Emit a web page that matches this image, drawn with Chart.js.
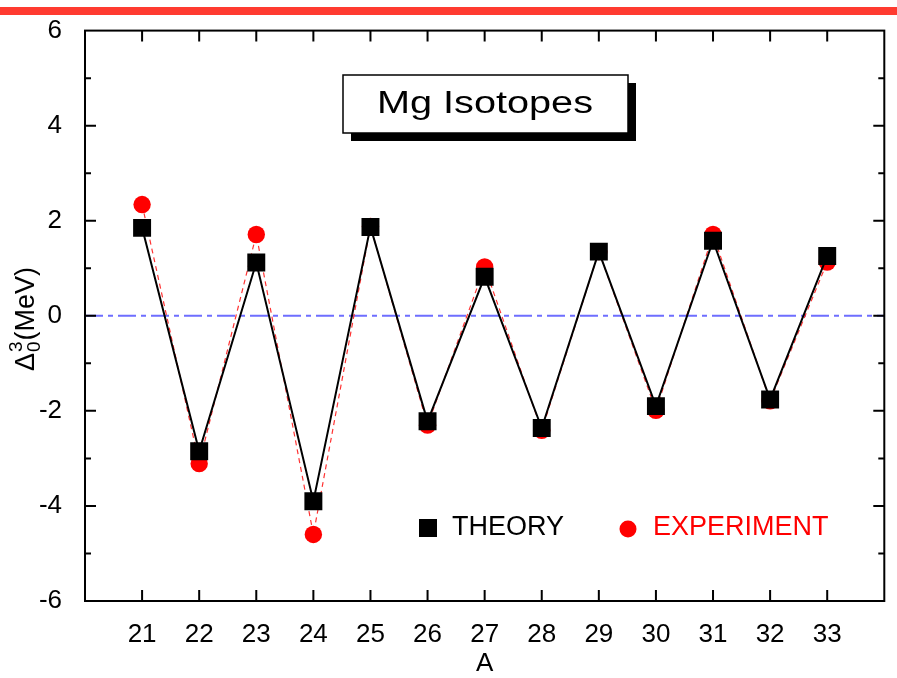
<!DOCTYPE html>
<html>
<head>
<meta charset="utf-8">
<script src="https://cdn.jsdelivr.net/npm/chart.js@4"></script>
<style>
  body { margin: 0; background: #fff; }
  .chart-container { position: relative; width: 897px; height: 678px; }
</style>
</head>
<body>
<div class="chart-container">
  <canvas id="chart"></canvas>
</div>
<script>
// Mg isotopes, three-point odd-even mass staggering
const massNumbers = [21, 22, 23, 24, 25, 26, 27, 28, 29, 30, 31, 32, 33];
const theory     = [1.85, -2.85, 1.12, -3.90, 1.87, -2.22, 0.82, -2.36, 1.35, -1.90, 1.58, -1.76, 1.26];
const experiment = [2.34, -3.11, 1.71, -4.60, 1.88, -2.30, 1.03, -2.41, 1.35, -1.99, 1.71, -1.79, 1.13];
const yTicks = [-6, -4, -2, 0, 2, 4, 6];
const xRange = [20, 34];
const yRange = [-6, 6];

const FONT = '"Liberation Sans", Arial, Helvetica, sans-serif';
const RED = '#ff0000';

const toPoints = (vals) => massNumbers.map((a, i) => ({ x: a, y: vals[i] }));

const decorations = {
  id: 'decorations',
  beforeDraw(chart) {
    const ctx = chart.ctx;
    ctx.save();
    ctx.fillStyle = '#ff3b30';
    ctx.fillRect(0, 7, chart.width, 8);
    ctx.restore();
  },
  afterDraw(chart) {
    const ctx = chart.ctx;
    const { left, right, top, bottom } = chart.chartArea;
    const xs = chart.scales.x, ys = chart.scales.y;
    ctx.save();

    // frame
    ctx.strokeStyle = '#000';
    ctx.lineWidth = 2;
    ctx.strokeRect(left, top, right - left, bottom - top);

    // inward ticks
    ctx.lineWidth = 2;
    ctx.beginPath();
    massNumbers.forEach(a => {
      const px = xs.getPixelForValue(a);
      ctx.moveTo(px, bottom); ctx.lineTo(px, bottom - 11);
      ctx.moveTo(px, top); ctx.lineTo(px, top + 11);
    });
    for (let v = yRange[0] + 1; v < yRange[1]; v++) {
      const py = ys.getPixelForValue(v);
      const len = v % 2 === 0 ? 11 : 6;
      ctx.moveTo(left, py); ctx.lineTo(left + len, py);
      ctx.moveTo(right, py); ctx.lineTo(right - len, py);
    }
    ctx.stroke();

    // title box with drop shadow
    const bx = 343, by = 75, bw = 285, bh = 58;
    ctx.fillStyle = '#000';
    ctx.fillRect(bx + 8, by + 8, bw, bh);
    ctx.fillStyle = '#fff';
    ctx.fillRect(bx, by, bw, bh);
    ctx.lineWidth = 1.5;
    ctx.strokeRect(bx, by, bw, bh);
    ctx.fillStyle = '#000';
    ctx.font = '31px ' + FONT;
    ctx.textBaseline = 'alphabetic';
    ctx.textAlign = 'left';
    const title = 'Mg Isotopes';
    const tw = ctx.measureText(title).width;
    ctx.save();
    ctx.translate(377, 113);
    ctx.scale(216 / tw, 1);
    ctx.fillText(title, 0, 0);
    ctx.restore();

    // legend
    ctx.font = '27px ' + FONT;
    ctx.textBaseline = 'middle';
    ctx.fillStyle = '#000';
    ctx.fillRect(419, 519, 18, 18);
    ctx.fillText('THEORY', 452, 528);
    ctx.fillStyle = RED;
    ctx.beginPath();
    ctx.arc(628, 529, 8.5, 0, Math.PI * 2);
    ctx.fill();
    ctx.fillText('EXPERIMENT', 653, 528);

    // x title
    ctx.fillStyle = '#000';
    ctx.textAlign = 'center';
    ctx.textBaseline = 'alphabetic';
    ctx.font = '26px ' + FONT;
    ctx.fillText('A', (left + right) / 2, 671);

    // y title: Δ^3_0(MeV)
    ctx.save();
    ctx.translate(34, 371);
    ctx.rotate(-Math.PI / 2);
    ctx.textAlign = 'left';
    ctx.font = '27px ' + FONT;
    ctx.fillText('\u0394', 0, 0);
    let w = ctx.measureText('\u0394').width;
    ctx.font = '19px ' + FONT;
    ctx.fillText('3', w + 1, -12);
    ctx.fillText('0', w + 1, 6);
    w += ctx.measureText('3').width + 2;
    ctx.font = '27px ' + FONT;
    ctx.fillText('(MeV)', w, 0);
    ctx.restore();

    ctx.restore();
  }
};

new Chart(document.getElementById('chart').getContext('2d'), {
  type: 'scatter',
  data: {
    datasets: [
      {
        label: 'THEORY',
        data: toPoints(theory),
        showLine: true,
        borderColor: '#000',
        borderWidth: 2,
        backgroundColor: '#000',
        pointStyle: 'rect',
        pointRadius: 12.7,
        pointBorderWidth: 0,
        order: 0
      },
      {
        label: 'EXPERIMENT',
        data: toPoints(experiment),
        showLine: true,
        borderColor: '#ff3333',
        borderWidth: 1.2,
        borderDash: [5, 4],
        backgroundColor: RED,
        pointBorderColor: RED,
        pointStyle: 'circle',
        pointRadius: 8.7,
        pointBorderWidth: 0,
        order: 1
      },
      {
        label: 'zero',
        data: [{ x: xRange[0], y: 0 }, { x: xRange[1], y: 0 }],
        showLine: true,
        borderColor: '#6e6eff',
        borderWidth: 2,
        borderDash: [18, 5, 5, 5],
        pointRadius: 0,
        order: 2
      }
    ]
  },
  options: {
    responsive: true,
    maintainAspectRatio: false,
    animation: false,
    layout: { padding: { top: 29, right: 11, left: 0, bottom: 0 } },
    plugins: {
      legend: { display: false },
      tooltip: { enabled: false }
    },
    scales: {
      x: {
        type: 'linear',
        min: xRange[0],
        max: xRange[1],
        grid: { display: false },
        border: { display: false },
        afterFit: s => { s.height = 77; },
        afterBuildTicks: s => { s.ticks = massNumbers.map(v => ({ value: v })); },
        ticks: {
          color: '#000',
          padding: 10,
          maxRotation: 0,
          autoSkip: false,
          font: { family: FONT, size: 26 }
        }
      },
      y: {
        min: yRange[0],
        max: yRange[1],
        grid: { display: false },
        border: { display: false },
        afterFit: s => { s.width = 85; },
        afterBuildTicks: s => { s.ticks = yTicks.map(v => ({ value: v })); },
        ticks: {
          color: '#000',
          padding: 15,
          font: { family: FONT, size: 26 }
        }
      }
    }
  },
  plugins: [decorations]
});
</script>
</body>
</html>
